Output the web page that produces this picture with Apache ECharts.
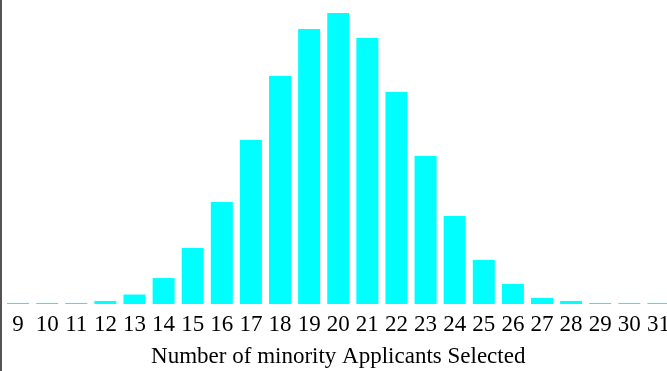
<!DOCTYPE html>
<html>
<head>
<meta charset="utf-8">
<script src="https://cdn.jsdelivr.net/npm/echarts@6/dist/echarts.min.js"></script>
<style>
  html, body { margin: 0; padding: 0; background: #fff; }
  #main { width: 667px; height: 371px; }
</style>
</head>
<body>
<div id="main"></div>
<script>
// number of minority applicants selected
const counts = ['9', '10', '11', '12', '13', '14', '15', '16', '17', '18', '19', '20',
  '21', '22', '23', '24', '25', '26', '27', '28', '29', '30', '31'];
// probability of each count
const probs = [0.0006, 0.0006, 0.0006, 0.0017, 0.0053, 0.0145, 0.0313, 0.057, 0.0917, 0.1275,
  0.1538, 0.1627, 0.1487, 0.1185, 0.0828, 0.0492, 0.0246, 0.0112, 0.0034, 0.0017,
  0.0006, 0.0006, 0.0006];

const serif = '"Liberation Serif", "Times New Roman", serif';

const chart = echarts.init(document.getElementById('main'), null, { renderer: 'canvas' });

const option = {
  backgroundColor: '#ffffff',
  animation: false,
  grid: { left: 3.5, right: -6, top: 0, bottom: 67, outerBoundsMode: 'none' },
  graphic: [{
    type: 'rect',
    shape: { x: 0, y: 0, width: 2, height: 371 },
    style: { fill: '#555555' }
  }],
  xAxis: {
    type: 'category',
    data: counts,
    axisLine: { show: false },
    axisTick: { show: false },
    axisLabel: {
      color: '#000',
      fontFamily: serif,
      fontSize: 23,
      margin: 9,
      interval: 0
    },
    name: 'Number of minority Applicants Selected',
    nameLocation: 'middle',
    nameGap: 41,
    nameTextStyle: { color: '#000', fontFamily: serif, fontSize: 23 }
  },
  yAxis: {
    type: 'value',
    min: 0,
    max: 0.17,
    show: false
  },
  series: [{
    type: 'bar',
    data: probs,
    barWidth: 22,
    itemStyle: { color: '#00ffff' }
  }]
};

chart.setOption(option);
</script>
</body>
</html>
